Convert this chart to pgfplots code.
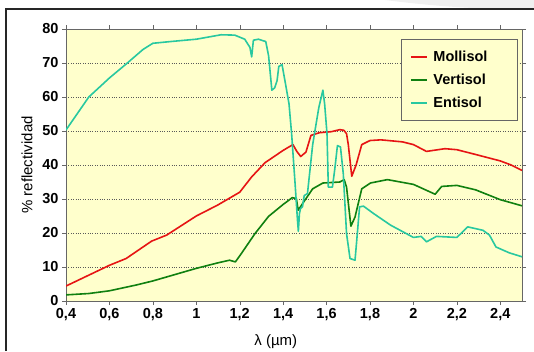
\documentclass[border=0pt]{standalone}
\usepackage{fontspec}
\setmainfont{Liberation Sans}
\usepackage{pgfplots}
\pgfplotsset{compat=1.18}
\definecolor{molred}{RGB}{230,20,20}
\definecolor{vergreen}{RGB}{16,128,16}
\definecolor{entteal}{RGB}{40,200,160}
\definecolor{plotbg}{RGB}{255,255,204}
\begin{document}
\begin{tikzpicture}[x=1pt,y=1pt]
\useasboundingbox (0,0) rectangle (534,351);
\fill[gray!12] (385,351) .. controls (440,344) and (480,342) .. (534,341) -- (534,351) -- cycle;
\draw[line width=2pt, black!85] (6,0) -- (6,342) -- (534,342);
\begin{axis}[
  at={(66pt,50pt)}, anchor=south west,
  scale only axis, width=456pt, height=272pt,
  xmin=0.4, xmax=2.5, ymin=0, ymax=80,
  xtick={0.4,0.6,0.8,1,1.2,1.4,1.6,1.8,2,2.2,2.4},
  ytick={0,10,20,30,40,50,60,70,80},
  /pgf/number format/use comma,
  /pgf/number format/assume math mode=true,
  tick label style={font=\bfseries\fontsize{14.5}{16}\selectfont, black},
  tick align=outside, major tick length=4pt,
  tick style={gray!80!black, thin},
  axis line style={gray!80!black, thin},
  axis background/.style={fill=plotbg},
  ymajorgrids, grid style={dotted, gray!70!black, thin},
  xlabel={λ (µm)}, ylabel={\% reflectividad},
  label style={font=\fontsize{15}{17}\selectfont},
  every axis x label/.append style={at={(axis description cs:0.46,-0.151)}, anchor=center},
  every axis y label/.append style={at={(axis description cs:-0.0855,0.5)}, anchor=center},
  legend style={at={(axis cs:2.48,77)}, anchor=north east, fill=plotbg, draw=gray!80!black,
    font=\bfseries\fontsize{14.5}{17}\selectfont, inner xsep=9pt, inner ysep=6pt,
    nodes={inner sep=0pt, minimum height=23pt},
    /tikz/every odd column/.append style={column sep=6pt}},
  legend cell align=left,
  legend image code/.code={\draw[#1, line width=1.2pt] plot coordinates {(0pt,0pt) (8pt,0pt) (16pt,0pt)};},
  every axis plot/.append style={line width=1.6pt, line join=round},
]
\addplot[color=molred] coordinates {
(0.4,4.4) (0.6,10.5) (0.677,12.5) (0.794,17.6) (0.864,19.4) (1.0,25) (1.098,28.2) (1.2,32)
(1.255,36.5) (1.317,40.7) (1.4,44.3) (1.445,46) (1.463,44) (1.481,42.5) (1.505,43.8) (1.528,48.7)
(1.567,49.5) (1.622,49.8) (1.661,50.4) (1.68,50.2) (1.692,49.2) (1.7,46) (1.716,36.7) (1.736,40)
(1.762,46) (1.8,47.2) (1.85,47.4) (1.95,46.8) (2.0,46) (2.06,44) (2.145,44.8) (2.2,44.5)
(2.286,43.1) (2.4,41.2) (2.45,40) (2.5,38.4)};
\addlegendentry{Mollisol\hspace*{21pt}}
\addplot[color=vergreen] coordinates {
(0.4,1.8) (0.505,2.2) (0.6,3.0) (0.723,4.7) (0.8,5.9) (1.0,9.6) (1.098,11.2) (1.153,12)
(1.18,11.5) (1.208,14) (1.27,19.8) (1.333,24.9) (1.4,28.4) (1.442,30.4) (1.461,30.1) (1.469,26.7)
(1.489,28.6) (1.536,33) (1.583,34.7) (1.661,35) (1.681,35.7) (1.692,33.5) (1.712,22) (1.731,24.7)
(1.762,33) (1.802,34.7) (1.88,35.7) (2.0,34.3) (2.1,31.4) (2.13,33.7) (2.2,34) (2.286,32.7)
(2.4,29.8) (2.5,28)};
\addlegendentry{Vertisol}
\addplot[color=entteal] coordinates {
(0.4,50.3) (0.505,60) (0.6,65.6) (0.677,69.7) (0.755,74) (0.8,75.8) (0.88,76.3) (1.0,77)
(1.114,78.3) (1.177,78.2) (1.223,77) (1.247,74.6) (1.255,71.8) (1.263,76.7) (1.286,77) (1.32,76.3)
(1.333,72.1) (1.348,62) (1.361,62.7) (1.372,64.8) (1.38,69) (1.395,69.5) (1.411,63.8) (1.427,58)
(1.439,49.2) (1.455,34.5) (1.466,23.8) (1.47,20.5) (1.475,25.7) (1.48,27.2) (1.489,27.7) (1.497,31)
(1.512,31.6) (1.536,46) (1.564,56.8) (1.583,62) (1.591,58) (1.602,49.2) (1.608,33.5) (1.627,33.5)
(1.638,38.9) (1.65,45.7) (1.664,45.3) (1.677,37.4) (1.692,19.8) (1.708,12.5) (1.731,12) (1.739,17.9)
(1.752,27.7) (1.77,27.9) (1.817,25.7) (1.895,22.3) (2.0,18.7) (2.036,19) (2.06,17.4) (2.106,19)
(2.2,18.7) (2.25,21.8) (2.32,20.8) (2.35,19.4) (2.38,15.9) (2.44,14.2) (2.5,13)};
\addlegendentry{Entisol}
\end{axis}
\end{tikzpicture}
\end{document}
